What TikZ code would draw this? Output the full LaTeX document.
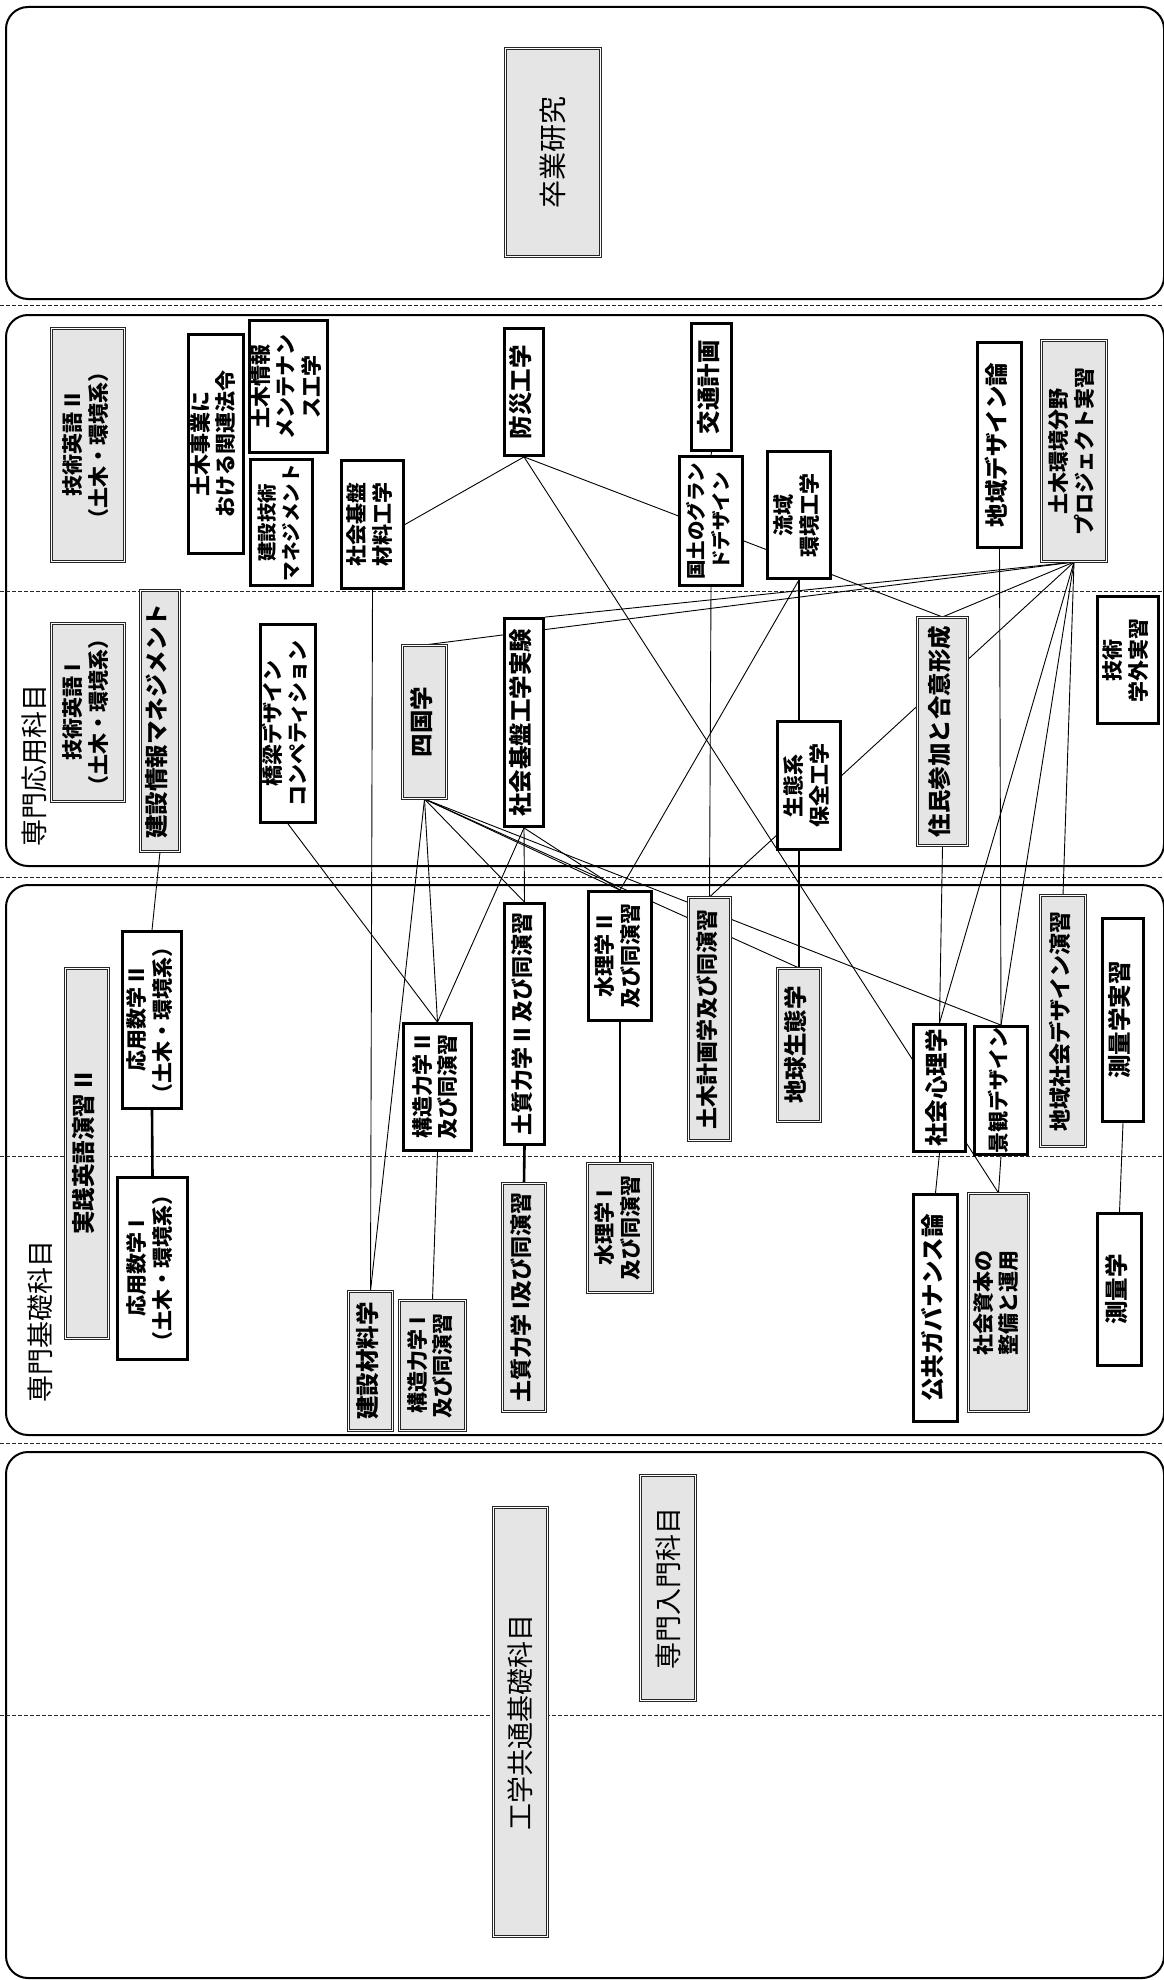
\documentclass[tikz,border=0pt]{standalone}
\usepackage{fontspec}
\usepackage{graphicx}
\newfontfamily\jp{Noto Sans CJK JP}
\newcommand\vt[1]{\rotatebox{90}{\begin{tabular}{@{}c@{}}#1\end{tabular}}}
\newcommand\bx[7]{\node[#1,#2,minimum width=#5pt,minimum height=#6pt] (#3) at (#4) {\vt{#7}};}
\pgfdeclarelayer{bg}
\pgfdeclarelayer{edges}
\pgfsetlayers{bg,edges,main}
\begin{document}
\begin{tikzpicture}[x=1pt,y=-1pt,
  band/.style={draw=black, line width=2pt, rounded corners=22pt},
  sep/.style={draw=black!85, line width=0.8pt, dash pattern=on 4pt off 2pt},
  plain/.style={draw=black, line width=2.8pt, fill=white, inner sep=0pt},
  dbl/.style={draw=black!85, line width=1.1pt, double=white, double distance=1.3pt, fill=black!10, inner sep=0pt},
  txtS/.style={font=\jp\bfseries\fontsize{19.5}{24}\selectfont},
  txt/.style={font=\jp\bfseries\fontsize{21}{25}\selectfont},
  txtM/.style={font=\jp\bfseries\fontsize{22}{26}\selectfont},
  txtL/.style={font=\jp\bfseries\fontsize{23.5}{28}\selectfont},
  big/.style={font=\jp\fontsize{27}{31}\selectfont},
  conn/.style={draw=black, line width=0.9pt},
  heavyconn/.style={draw=black, line width=2.6pt},
  midconn/.style={draw=black, line width=1.6pt},
]
\useasboundingbox (0,0) rectangle (1163,1980);

\begin{pgfonlayer}{bg}
\draw[band] (6,7) rectangle (1164,299);
\draw[band] (6,315) rectangle (1164,866);
\draw[band] (6,885) rectangle (1164,1435);
\draw[band] (6,1452) rectangle (1164,1978);
\foreach \yy in {305,591,877,1156,1443,1715} \draw[sep] (0,\yy) -- (1163,\yy);
\end{pgfonlayer}

% band labels
\node[big] (lab2) at (34,765) {\rotatebox{90}{専門応用科目}};
\node[big] (lab3) at (40,1321) {\rotatebox{90}{専門基礎科目}};

% top band
\node[dbl,big,font=\jp\fontsize{28}{32}\selectfont,minimum width=95pt,minimum height=208pt] (sotsu) at (553,152.5) {\rotatebox{90}{卒業研究}};

% band 2 upper
\bx{dbl}{txt}{eigo2}{88,445}{73}{233}{技術英語 II\\（土木・環境系）}
\bx{plain}{txt}{houki}{216,444}{55}{219}{土木事業に\\おける関連法令}
\bx{plain}{txt}{joho}{288.5,386.5}{78}{132}{土木情報\\メンテナン\\ス工学}
\bx{plain}{txtS}{gijutsu}{281.5,522.5}{62}{126}{建設技術\\マネジメント}
\bx{plain}{txt}{zairyo}{372.5,524.5}{62}{128}{社会基盤\\材料工学}
\bx{plain}{txtL}{bosai}{524,392}{39}{127}{防災工学}
\bx{plain}{txtL}{kotsu}{711.5,387}{40}{127}{交通計画}
\bx{plain}{txtS}{kokudo}{711,521}{63}{129}{国土のグラン\\ドデザイン}
\bx{plain}{txt}{ryuiki}{799,515}{63}{127}{流域\\環境工学}
\bx{plain}{txtL}{chiikiD}{999.5,445}{44}{205}{地域デザイン論}
\bx{dbl}{txt}{pj}{1074,451}{65}{221}{土木環境分野\\プロジェクト実習}

% band 2 lower
\bx{dbl}{txt}{eigo1}{88,712.5}{73}{178}{技術英語 I\\（土木・環境系）}
\bx{dbl}{txtL}{kjm}{160,721}{39}{261}{建設情報マネジメント}
\bx{plain}{txt}{kyoryo}{288,723.5}{55}{198}{橋梁デザイン\\コンペティション}
\bx{dbl}{txtL}{shikoku}{424.5,722}{44}{153}{四国学}
\bx{plain}{txtL}{jikken}{524,722.5}{39}{208}{社会基盤工学実験}
\bx{plain}{txt}{seitai}{809,785.5}{63}{128}{生態系\\保全工学}
\bx{dbl}{txtL}{jumin}{942.5,731.5}{50}{228}{住民参加と合意形成}
\bx{plain}{txt}{gakugai}{1128,660}{61}{127}{技術\\学外実習}

% band 3 upper
\bx{dbl}{txtL}{jissen}{87,1153.5}{43}{370}{実践英語演習 II}
\bx{plain}{txt}{ouyou2}{152,1020}{59}{177}{応用数学 II\\（土木・環境系）}
\bx{plain}{txt}{kozo2}{437.5,1087}{68}{127}{構造力学 II\\及び同演習}
\bx{plain}{txtM}{dositsu2}{524.5,1024}{40}{241}{土質力学 II 及び同演習}
\bx{plain}{txt}{suiri2}{620,956}{63}{129}{水理学 II\\及び同演習}
\bx{dbl}{txtM}{keikaku}{709.5,1019}{42}{243}{土木計画学及び同演習}
\bx{dbl}{txtL}{chikyu}{799,1045}{43}{153}{地球生態学}
\bx{plain}{txtL}{shinri}{939.5,1088}{52}{127}{社会心理学}
\bx{plain}{txt}{keikan}{1001,1090.5}{53}{128}{景観デザイン}
\bx{dbl}{txtM}{chiikiS}{1063,1021}{45}{251}{地域社会デザイン演習}
\bx{plain}{txtL}{sokuJ}{1123,1020}{41}{203}{測量学実習}

% band 3 lower
\bx{plain}{txt}{ouyou1}{152.5,1268.5}{70}{182}{応用数学 I\\（土木・環境系）}
\bx{dbl}{txtL}{kenzai}{370.5,1361}{44}{139}{建設材料学}
\bx{dbl}{txt}{kozo1}{432.5,1365.5}{66}{130}{構造力学 I\\及び同演習}
\bx{dbl}{txtM}{dositsu1}{524,1297.5}{43}{228}{土質力学 I及び同演習}
\bx{dbl}{txt}{suiri1}{620,1228}{65}{129}{水理学 I\\及び同演習}
\bx{plain}{txtL}{koukyo}{935.5,1308}{44}{227}{公共ガバナンス論}
\bx{dbl}{txt}{shihon}{998.5,1302.5}{60}{218}{社会資本の\\整備と運用}
\bx{plain}{txtL}{sokuryo}{1119.5,1289.5}{44}{152}{測量学}

% band 4
\node[dbl,big,minimum width=54pt,minimum height=429pt] (kougaku) at (520.5,1722) {\rotatebox{90}{工学共通基礎科目}};
\node[dbl,big,minimum width=55pt,minimum height=225pt] (nyumon) at (668,1588) {\rotatebox{90}{専門入門科目}};

\begin{pgfonlayer}{edges}
\draw[conn] (zairyo.south) -- (kenzai.north);
\draw[conn] (bosai.south) -- (zairyo.east);
\draw[conn] (bosai.south) -- (jumin.north);
\draw[conn] (bosai.south) -- (shihon.north);
\draw[conn] (kotsu.south) -- (kokudo.north);
\draw[conn] (kokudo.south) -- (keikaku.north);
\draw[heavyconn] (ryuiki.south) -- (chikyu.north);
\draw[conn] (ryuiki.south) -- (suiri2.north);
\draw[conn] (chiikiD.south) -- (keikan.north);
\draw[conn] (pj.south) -- (shikoku.north);
\draw[conn] (pj.south) -- (jikken.north east);
\draw[conn] (pj.south) -- (jumin.north);
\draw[conn] (pj.south) -- (keikaku.north);
\draw[conn] (pj.south) -- (shinri.north);
\draw[conn] (pj.south) -- (keikan.north);
\draw[conn] (pj.south) -- (chiikiS.north);
\draw[conn] (jumin.south) -- (shinri.north);
\draw[conn] (kjm.south) -- (ouyou2.north);
\draw[heavyconn] (ouyou2.south) -- (ouyou1.north);
\draw[conn] (kyoryo.south) -- (kozo2.north);
\draw[conn] (shikoku.south) -- (kozo2.north);
\draw[conn] (shikoku.south) -- (kenzai.north);
\draw[conn] (shikoku.south) -- (dositsu2.north);
\draw[conn] (shikoku.south) -- (suiri2.north);
\draw[conn] (shikoku.south) -- (keikan.north);
\draw[conn] (shikoku.south) -- (chikyu.north);
\draw[conn] (jikken.south) -- (dositsu2.north);
\draw[conn] (jikken.south) -- (kozo2.north);
\draw[conn] (jikken.south) -- (suiri2.north);
\draw[conn] (kozo2.south) -- (kozo1.north);
\draw[heavyconn] (dositsu2.south) -- (dositsu1.north);
\draw[midconn] (suiri2.south) -- (suiri1.north);
\draw[conn] (shinri.south) -- (koukyo.north);
\draw[conn] (keikan.south) -- (shihon.north);
\draw[conn] (sokuJ.south) -- (sokuryo.north);
\end{pgfonlayer}
\end{tikzpicture}
\end{document}
